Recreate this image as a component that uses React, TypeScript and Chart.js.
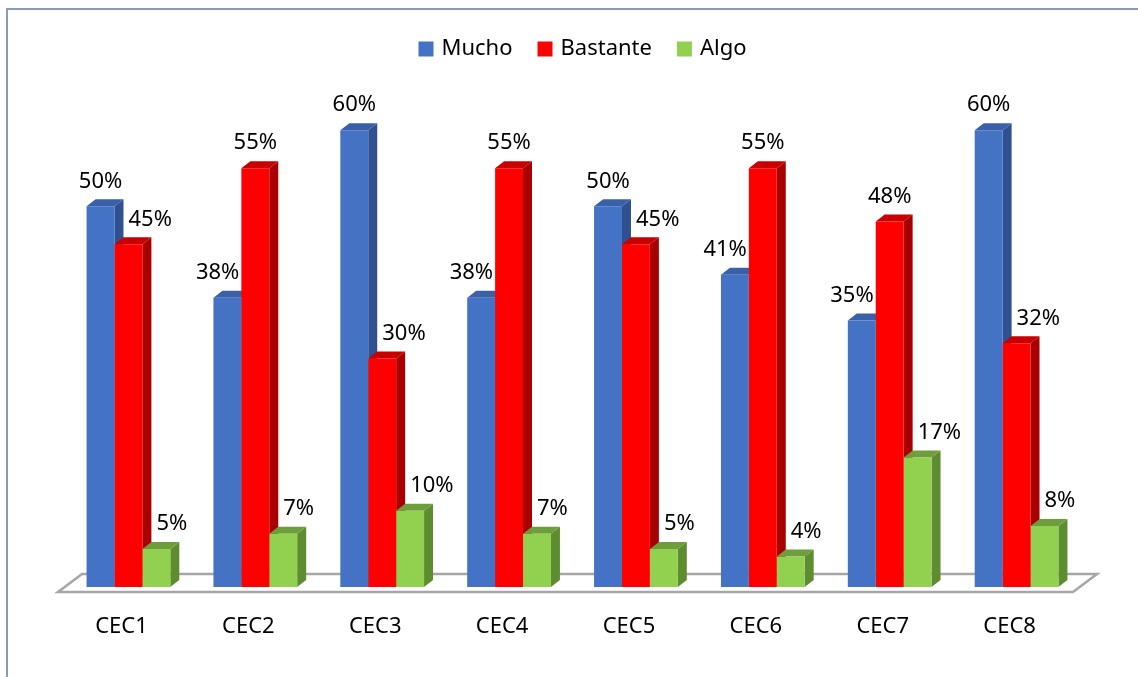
import { useEffect, useRef } from "react";
import { Chart, registerables } from "chart.js";

Chart.register(...registerables);

// Survey results per centre (percent of answers)
const categories = ["CEC1", "CEC2", "CEC3", "CEC4", "CEC5", "CEC6", "CEC7", "CEC8"];
const seriesNames = ["Mucho", "Bastante", "Algo"];
const mucho = [50, 38, 60, 38, 50, 41, 35, 60];
const bastante = [45, 55, 30, 55, 45, 55, 48, 32];
const algo = [5, 7, 10, 7, 5, 4, 17, 8];
const seriesColors = ["#4472C4", "#FF0000", "#92D050"];
const sideColors = ["#2F5191", "#A80000", "#5E8C30"];
const topColors = ["#3A60A8", "#C80000", "#6E9E3C"];

const FONT_FAMILY = '"Noto Sans", "Open Sans", sans-serif';
const FONT = `22px ${FONT_FAMILY}`;
// Oblique depth of each bar and of the floor
const DX = 9;
const DY = 7;
const FLOOR_FRONT_DX = -7;
const FLOOR_FRONT_DY = 5;
const FLOOR_BACK_DX = 17;
const FLOOR_BACK_DY = -13;

type Bar = { x: number; y: number; base: number; width: number };

function getBars(chart: any, d: number): Bar[] {
  return chart.getDatasetMeta(d).data.map((el: any) => el.getProps(["x", "y", "base", "width"], true));
}

const faces3d = {
  id: "faces3d",
  beforeDraw(chart: any) {
    const { ctx, width, height } = chart;
    ctx.save();
    ctx.fillStyle = "#FFFFFF";
    ctx.fillRect(0, 0, width, height);
    // Frame
    ctx.strokeStyle = "#8A9BB5";
    ctx.lineWidth = 2;
    ctx.beginPath();
    ctx.moveTo(7, height + 2);
    ctx.lineTo(7, 9);
    ctx.lineTo(width + 2, 9);
    ctx.stroke();
    ctx.restore();
  },
  beforeDatasetsDraw(chart: any) {
    const { ctx, chartArea } = chart;
    const base = chartArea.bottom;
    ctx.save();
    // Floor
    ctx.beginPath();
    ctx.moveTo(chartArea.left + FLOOR_FRONT_DX, base + FLOOR_FRONT_DY);
    ctx.lineTo(chartArea.right + FLOOR_FRONT_DX, base + FLOOR_FRONT_DY);
    ctx.lineTo(chartArea.right + FLOOR_BACK_DX, base + FLOOR_BACK_DY);
    ctx.lineTo(chartArea.left + FLOOR_BACK_DX, base + FLOOR_BACK_DY);
    ctx.closePath();
    ctx.fillStyle = "#FFFFFF";
    ctx.fill();
    ctx.strokeStyle = "#A6A6A6";
    ctx.lineWidth = 2.5;
    ctx.lineJoin = "miter";
    ctx.stroke();

    // Side and top faces of each bar
    chart.data.datasets.forEach((_: any, d: number) => {
      getBars(chart, d).forEach((b) => {
        const l = b.x - b.width / 2;
        const r = b.x + b.width / 2;
        ctx.fillStyle = sideColors[d];
        ctx.beginPath();
        ctx.moveTo(r, b.y);
        ctx.lineTo(r + DX, b.y - DY);
        ctx.lineTo(r + DX, b.base - DY);
        ctx.lineTo(r, b.base);
        ctx.closePath();
        ctx.fill();
        ctx.fillStyle = topColors[d];
        ctx.beginPath();
        ctx.moveTo(l, b.y);
        ctx.lineTo(l + DX, b.y - DY);
        ctx.lineTo(r + DX, b.y - DY);
        ctx.lineTo(r, b.y);
        ctx.closePath();
        ctx.fill();
      });
    });
    ctx.restore();
  },
  afterDatasetsDraw(chart: any) {
    const { ctx } = chart;
    const all = chart.data.datasets.map((_: any, d: number) => getBars(chart, d));
    ctx.save();
    ctx.font = FONT;
    ctx.fillStyle = "#000000";
    ctx.textBaseline = "middle";
    ctx.textAlign = "left";
    chart.data.datasets.forEach((ds: any, d: number) => {
      all[d].forEach((b: Bar, i: number) => {
        const text = `${ds.data[i]}%`;
        const w = ctx.measureText(text).width;
        const cy = b.y - 25;
        let left = b.x - w / 2;
        const top = cy - 10;
        const bottom = cy + 10;
        const hits = (n: Bar, lx: number) => {
          const nl = n.x - n.width / 2;
          const nr = n.x + n.width / 2 + DX;
          return lx < nr && lx + w > nl && bottom > n.y - DY && top < n.base;
        };
        if (d > 0) {
          const n = all[d - 1][i];
          if (hits(n, left)) left = n.x + n.width / 2 + DX + 5;
        }
        if (d < all.length - 1) {
          const n = all[d + 1][i];
          if (hits(n, left)) left = n.x - n.width / 2 - 2 - w;
        }
        ctx.fillText(text, left, cy);
      });
    });
    ctx.restore();
  },
  afterDraw(chart: any) {
    const { ctx, chartArea } = chart;
    const xScale = chart.scales.x;
    ctx.save();
    ctx.font = FONT;
    ctx.fillStyle = "#000000";
    ctx.textBaseline = "middle";

    // Category labels along the front edge of the floor
    ctx.textAlign = "center";
    categories.forEach((c, i) => {
      ctx.fillText(c, xScale.getPixelForValue(i) + FLOOR_FRONT_DX, chartArea.bottom + 40);
    });

    // Legend
    const box = 15;
    const gap = 8;
    const itemGap = 25;
    const widths = seriesNames.map((s) => ctx.measureText(s).width);
    const total = widths.reduce((a, w) => a + box + gap + w, 0) + itemGap * (seriesNames.length - 1);
    let x = (chartArea.left + chartArea.right) / 2 + 10 - total / 2;
    const y = 49;
    ctx.textAlign = "left";
    seriesNames.forEach((s, k) => {
      ctx.fillStyle = seriesColors[k];
      ctx.fillRect(x, y - box / 2, box, box);
      ctx.fillStyle = "#000000";
      ctx.fillText(s, x + box + gap, y);
      x += box + gap + widths[k] + itemGap;
    });
    ctx.restore();
  },
};

export default function App() {
  const canvasRef = useRef<HTMLCanvasElement | null>(null);

  useEffect(() => {
    if (!canvasRef.current) return;
    const chart = new Chart(canvasRef.current, {
      type: "bar",
      data: {
        labels: categories,
        datasets: [mucho, bastante, algo].map((values, k) => ({
          label: seriesNames[k],
          data: values,
          backgroundColor: seriesColors[k],
          borderWidth: 0,
          categoryPercentage: 0.66,
          barPercentage: 1,
        })),
      },
      options: {
        responsive: false,
        animation: false,
        devicePixelRatio: 1,
        layout: { padding: { top: 54, bottom: 90, left: 65, right: 58 } },
        scales: {
          x: { display: false, grid: { display: false } },
          y: { display: false, min: 0, max: 70, grid: { display: false } },
        },
        plugins: {
          legend: { display: false },
          title: { display: false },
          tooltip: { enabled: false },
        },
      },
      plugins: [faces3d],
    });
    return () => chart.destroy();
  }, []);

  return (
    <div style={{ position: "fixed", left: 0, top: 0, width: 1138, height: 677, background: "#fff" }}>
      <canvas ref={canvasRef} width={1138} height={677} style={{ display: "block" }} />
    </div>
  );
}
